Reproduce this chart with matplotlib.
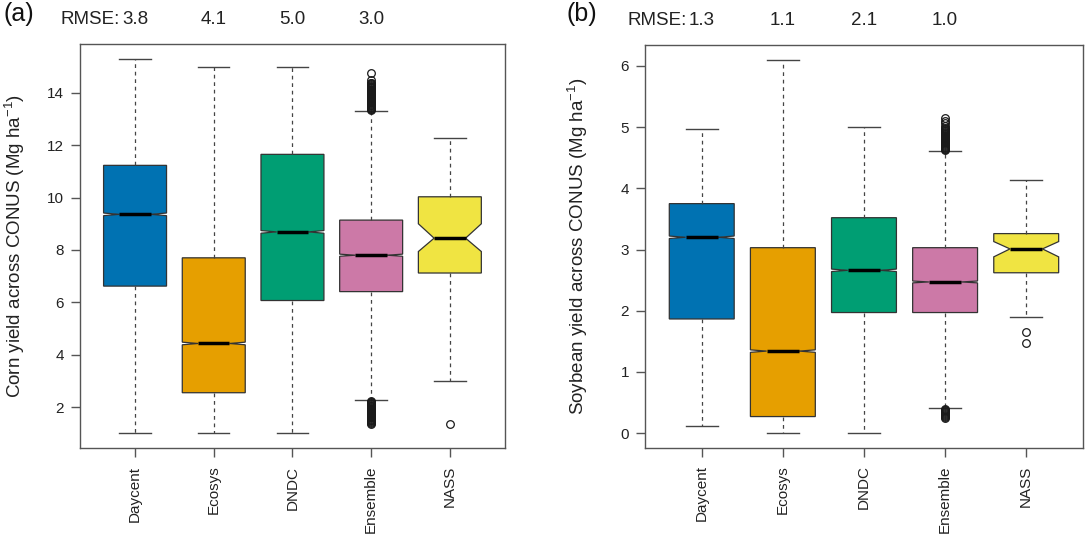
import matplotlib.pyplot as plt
import matplotlib.transforms as mtransforms

plt.rcParams['font.family'] = ['Liberation Sans', 'DejaVu Sans']
plt.rcParams['mathtext.fontset'] = 'custom'
plt.rcParams['mathtext.rm'] = 'Liberation Sans'
plt.rcParams['mathtext.it'] = 'Liberation Sans:italic'

models = ['Daycent', 'Ecosys', 'DNDC', 'Ensemble', 'NASS']
colors = ['#0072B2', '#E69F00', '#009E73', '#CC79A7', '#F0E442']

# corn yield (Mg/ha), box stats
corn_wlo = [1.0, 1.0, 1.0, 2.27, 2.98]
corn_q1 = [6.62, 2.55, 6.07, 6.41, 7.12]
corn_med = [9.36, 4.43, 8.69, 7.80, 8.45]
corn_q3 = [11.23, 7.70, 11.65, 9.14, 10.03]
corn_whi = [15.28, 15.0, 15.0, 13.31, 12.29]
corn_cilo = [9.31, 4.38, 8.64, 7.76, 7.94]
corn_cihi = [9.41, 4.48, 8.74, 7.84, 9.00]
# the ensemble has thousands of outliers; these trace the dense columns
corn_fliers = [
    [], [], [],
    [13.34, 13.37, 13.40, 13.43, 13.46, 13.49, 13.52, 13.55, 13.58, 13.61,
     13.64, 13.67, 13.70, 13.73, 13.76, 13.79, 13.82, 13.85, 13.88, 13.91,
     13.94, 13.97, 14.00, 14.03, 14.06, 14.09, 14.12, 14.15, 14.18, 14.21,
     14.24, 14.27, 14.30, 14.33, 14.36, 14.39, 14.47, 14.75,
     2.24, 2.21, 2.18, 2.15, 2.12, 2.09, 2.06, 2.03, 2.00, 1.97, 1.94, 1.91,
     1.88, 1.85, 1.82, 1.79, 1.76, 1.73, 1.70, 1.67, 1.64, 1.61, 1.58, 1.55,
     1.52, 1.49, 1.46, 1.43, 1.40, 1.37],
    [1.34],
]
corn_rmse = ['3.8', '4.1', '5.0', '3.0']

# soybean yield (Mg/ha), panel (b)
soy_wlo = [0.12, 0.0, 0.0, 0.41, 1.89]
soy_q1 = [1.865, 0.27, 1.97, 1.97, 2.62]
soy_med = [3.20, 1.34, 2.66, 2.47, 3.01]
soy_q3 = [3.75, 3.03, 3.52, 3.03, 3.26]
soy_whi = [4.97, 6.10, 5.0, 4.61, 4.14]
soy_cilo = [3.18, 1.32, 2.64, 2.455, 2.88]
soy_cihi = [3.22, 1.36, 2.68, 2.485, 3.13]
soy_fliers = [
    [], [], [],
    [4.62, 4.635, 4.65, 4.665, 4.68, 4.695, 4.71, 4.725, 4.74, 4.755, 4.77,
     4.785, 4.80, 4.815, 4.83, 4.845, 4.86, 4.875, 4.89, 4.905, 4.92, 4.935,
     4.95, 4.965, 4.98, 5.02, 5.06, 5.10, 5.15,
     0.40, 0.385, 0.37, 0.355, 0.34, 0.325, 0.31, 0.295, 0.28, 0.265, 0.25],
    [1.66, 1.47],
]
soy_rmse = ['1.3', '1.1', '2.1', '1.0']

AXCOL = '#555555'


def draw_panel(ax, wlo, q1, med, q3, whi, cilo, cihi, fliers, rmse, ylabel, yticks):
    stats = []
    for i in range(len(models)):
        stats.append(dict(whislo=wlo[i], q1=q1[i], med=med[i], q3=q3[i], whishi=whi[i],
                          cilo=cilo[i], cihi=cihi[i], fliers=fliers[i], label=models[i]))
    pos = list(range(1, len(models) + 1))
    bp = ax.bxp(stats, positions=pos, widths=0.8, shownotches=True, patch_artist=True,
                boxprops=dict(edgecolor='#333333', linewidth=0.9),
                whiskerprops=dict(color='#444444', linestyle=(0, (3, 3)), linewidth=0.9),
                capprops=dict(color='#444444', linewidth=1.0),
                medianprops=dict(color='black', linewidth=2.5, solid_capstyle='butt'),
                flierprops=dict(marker='o', markerfacecolor='none', markeredgecolor='#1a1a1a',
                                markersize=5.5, markeredgewidth=0.9, linestyle='none'))
    for patch, c in zip(bp['boxes'], colors):
        patch.set_facecolor(c)

    # R style 4% padding around data range
    lo = min(min(wlo), min(min(f) for f in fliers if f))
    hi = max(max(whi), max(max(f) for f in fliers if f))
    pad = 0.04 * (hi - lo)
    ax.set_ylim(lo - pad, hi + pad)
    ax.set_xlim(0.3, len(models) + 0.7)

    ax.set_xticks(pos)
    ax.set_xticklabels(models, rotation=90, fontsize=11)
    ax.set_yticks(yticks)
    ax.set_yticklabels([str(t) for t in yticks], fontsize=11)
    ax.tick_params(length=6.5, width=1, color=AXCOL, labelcolor='#222222')
    ax.tick_params(axis='x', pad=6)
    ax.tick_params(axis='y', pad=5)
    for s in ax.spines.values():
        s.set_color(AXCOL)
        s.set_linewidth(1.0)

    ax.set_ylabel(ylabel, fontsize=13.5, color='#222222')
    ax.yaxis.set_label_coords(-0.152, 0.5)
    ax.yaxis.label.set_va('center')

    trans = mtransforms.blended_transform_factory(ax.transData, ax.transAxes)
    for i, r in enumerate(rmse):
        ax.text(i + 1, 1.061, r, transform=trans, ha='center', va='center',
                fontsize=13.5, color='#222222')
    ax.annotate('RMSE:', xy=(1, 1.061), xycoords=trans, xytext=(-11, 0),
                textcoords='offset points', ha='right', va='center',
                fontsize=13.5, color='#222222', annotation_clip=False)
    return bp


fig = plt.figure(figsize=(10.88, 5.37), dpi=100)
ax1 = fig.add_axes([0.0735, 0.1652, 0.3906, 0.7523])
ax2 = fig.add_axes([0.5928, 0.1657, 0.4026, 0.7507])

draw_panel(ax1, corn_wlo, corn_q1, corn_med, corn_q3, corn_whi, corn_cilo, corn_cihi,
           corn_fliers, corn_rmse, 'Corn yield across CONUS (Mg ha$^{-1}$)',
           [2, 4, 6, 8, 10, 12, 14])
draw_panel(ax2, soy_wlo, soy_q1, soy_med, soy_q3, soy_whi, soy_cilo, soy_cihi,
           soy_fliers, soy_rmse, 'Soybean yield across CONUS (Mg ha$^{-1}$)',
           [0, 1, 2, 3, 4, 5, 6])

fig.text(19 / 1088, 1 - 14.5 / 537, '(a)', ha='center', va='center', fontsize=18, color='#111111')
fig.text(582 / 1088, 1 - 14.5 / 537, '(b)', ha='center', va='center', fontsize=18, color='#111111')

fig.savefig('out.png', dpi=100)
